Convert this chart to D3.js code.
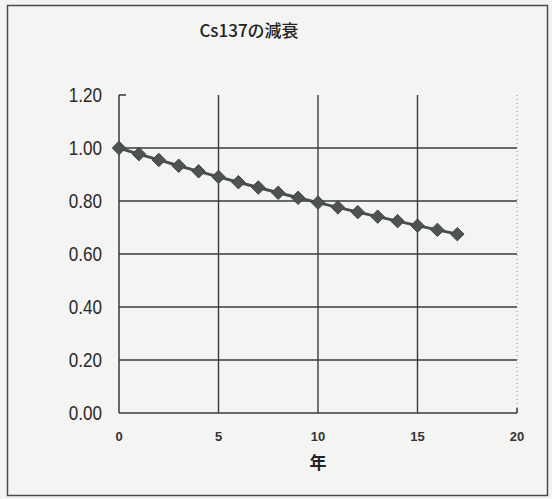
<!DOCTYPE html>
<html><head><meta charset="utf-8">
<script src="https://cdn.jsdelivr.net/npm/d3@7"></script>
<style>
html,body{margin:0;padding:0;background:#f3f3f1;}
svg{display:block;}
</style></head>
<body>
<svg id="c" width="552" height="499"></svg>
<script>
const title = "Cs137の減衰";
const xLabel = "年";
const years = [0,1,2,3,4,5,6,7,8,9,10,11,12,13,14,15,16,17];
const remaining = [1.000,0.977,0.955,0.933,0.912,0.891,0.871,0.851,0.831,0.812,0.794,0.776,0.758,0.741,0.724,0.707,0.691,0.675];
const xTicks = [0,5,10,15,20];
const yTicks = [0,0.2,0.4,0.6,0.8,1.0,1.2];

const svg = d3.select("#c");
const ink = "#3a3a3a";
const font = "'Liberation Sans', Arial, sans-serif";

// outer frame
svg.append("rect").attr("x",7.5).attr("y",5.5).attr("width",540).attr("height",490)
  .attr("fill","#f4f4f2").attr("stroke","#4a4a4a").attr("stroke-width",1.5);

const x = d3.scaleLinear().domain([0,20]).range([119,517]);
const y = d3.scaleLinear().domain([0,1.2]).range([413,95]);

// horizontal gridlines
svg.append("g").selectAll("line").data(yTicks.filter(v=>v>0 && v<1.2)).join("line")
  .attr("x1",x(0)).attr("x2",x(20)).attr("y1",d=>y(d)).attr("y2",d=>y(d))
  .attr("stroke",ink).attr("stroke-width",1.4);
// vertical gridlines
svg.append("g").selectAll("line").data(xTicks.filter(v=>v>0 && v<20)).join("line")
  .attr("y1",y(0)).attr("y2",y(1.2)).attr("x1",d=>x(d)).attr("x2",d=>x(d))
  .attr("stroke",ink).attr("stroke-width",1.4);
// dotted right border
svg.append("line").attr("x1",x(20)).attr("x2",x(20)).attr("y1",y(1.2)).attr("y2",y(0))
  .attr("stroke","#888").attr("stroke-width",1).attr("stroke-dasharray","1,3");

// axes lines
svg.append("line").attr("x1",x(0)).attr("x2",x(0)).attr("y1",y(1.2)).attr("y2",y(0))
  .attr("stroke",ink).attr("stroke-width",1.5);
svg.append("line").attr("x1",x(0)).attr("x2",x(0)+7).attr("y1",y(1.2)).attr("y2",y(1.2))
  .attr("stroke",ink).attr("stroke-width",1.5);
svg.append("line").attr("x1",x(0)).attr("x2",x(20)).attr("y1",y(0)).attr("y2",y(0))
  .attr("stroke",ink).attr("stroke-width",1.6);
svg.append("line").attr("x1",x(20)).attr("x2",x(20)).attr("y1",y(0)).attr("y2",y(0)-5)
  .attr("stroke",ink).attr("stroke-width",1.5);

// y tick labels (slightly tall, condensed look)
svg.append("g").selectAll("text").data(yTicks).join("text")
  .attr("transform",d=>`translate(102,${y(d)}) scale(0.95,1.15)`)
  .attr("dy","0.36em")
  .attr("text-anchor","end").attr("font-family",font).attr("font-size",18)
  .attr("fill","#2a2a2a")
  .text(d=>d3.format(".2f")(d));
// x tick labels
svg.append("g").selectAll("text").data(xTicks).join("text")
  .attr("x",d=>x(d)).attr("y",441)
  .attr("text-anchor","middle").attr("font-family",font).attr("font-size",13).attr("font-weight","bold")
  .attr("fill","#333").text(d=>d);

// title & axis label
svg.append("text").attr("x",249).attr("y",37).attr("text-anchor","middle")
  .attr("font-family","'Noto Sans CJK JP', sans-serif").attr("font-size",17).attr("font-weight",500).attr("fill","#222").text(title);
svg.append("text").attr("x",318).attr("y",469).attr("text-anchor","middle")
  .attr("font-family","'Noto Sans CJK JP', sans-serif").attr("font-size",17).attr("font-weight","bold").attr("fill","#222").text(xLabel);

// series line
const data = years.map((t,i)=>({t, v: remaining[i]}));
svg.append("path").datum(data)
  .attr("d", d3.line().x(d=>x(d.t)).y(d=>y(d.v)))
  .attr("fill","none").attr("stroke","#4a4f4c").attr("stroke-width",3);
// markers
svg.append("g").selectAll("path").data(data).join("path")
  .attr("transform",d=>`translate(${x(d.t)},${y(d.v)})`)
  .attr("d", d3.symbol(d3.symbolDiamond2, 115))
  .attr("fill","#4d5350").attr("stroke","#3e4240").attr("stroke-width",1);
</script>
</body></html>
